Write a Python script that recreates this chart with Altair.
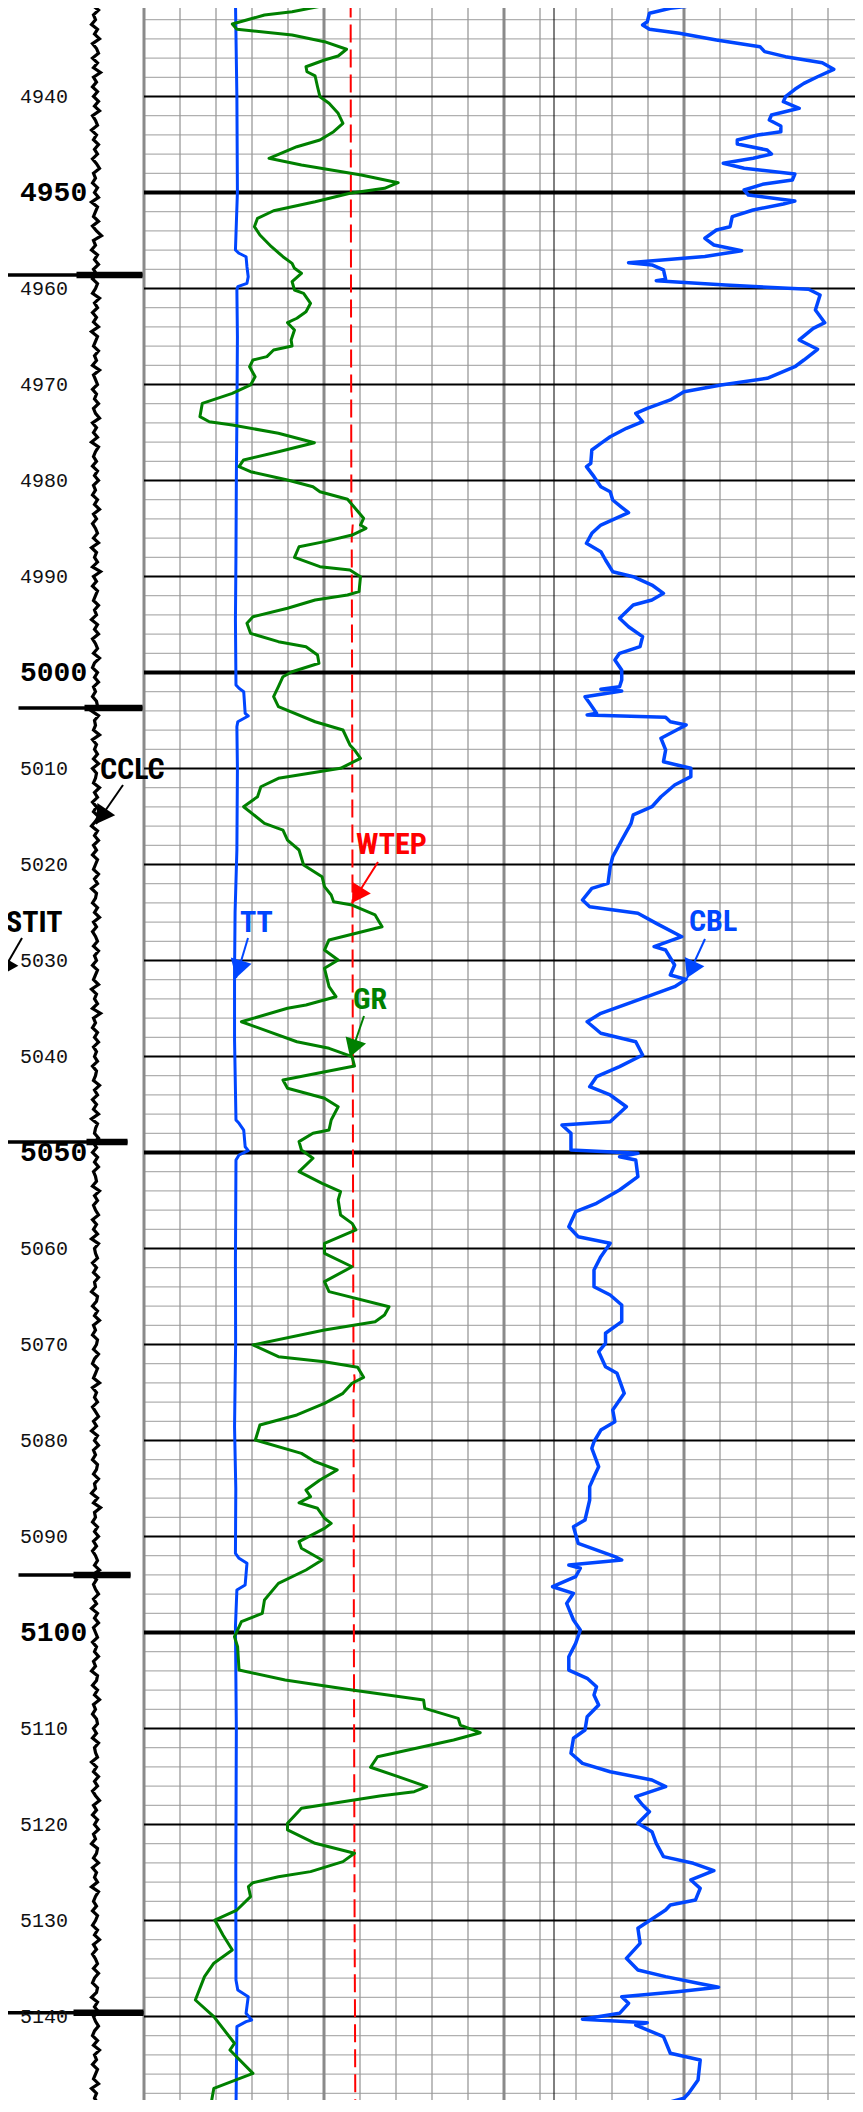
import math
import altair as alt
import pandas as pd

# ------------------------------------------------------------------ data
GR_DEPTH = [4929.95, 4930.47, 4931.17, 4931.51, 4932.45, 4933.0, 4933.59, 4934.29, 4935.08, 4935.78,
            4936.2, 4936.9, 4937.42, 4937.86, 4938.98, 4940.02, 4940.71, 4941.75, 4942.79, 4943.67,
            4944.53, 4945.23, 4946.44, 4947.14, 4948.18, 4948.98, 4949.56, 4950.08, 4950.96, 4951.9,
            4952.69, 4953.56, 4954.43, 4955.65, 4956.69, 4957.38, 4957.9, 4958.42, 4959.29, 4960.16,
            4960.5, 4961.54, 4962.42, 4963.1, 4963.56, 4964.32, 4965.36, 4965.99, 4966.41, 4967.1,
            4967.45, 4968.15, 4969.19, 4970.05, 4970.92, 4971.96, 4973.35, 4973.88, 4974.22, 4975.08,
            4976.06, 4977.0, 4977.86, 4978.56, 4979.08, 4979.95, 4980.65, 4981.17, 4981.96, 4983.07,
            4983.94, 4984.64, 4984.98, 4985.68, 4986.37, 4986.9, 4988.0, 4988.98, 4989.32, 4990.02,
            4991.58, 4991.93, 4992.45, 4993.31, 4994.19, 4994.88, 4995.92, 4996.79, 4997.31, 4998.18,
            4999.04, 4999.92, 5000.44, 5001.48, 5002.52, 5003.56, 5005.13, 5005.99, 5007.55, 5008.07,
            5008.94, 5009.98, 5011.02, 5011.9, 5012.94, 5013.98, 5015.71, 5016.41, 5017.45, 5018.49,
            5020.05, 5021.27, 5022.31, 5023.18, 5023.87, 5024.22, 5025.26, 5026.48, 5027.86, 5028.91,
            5029.95, 5030.81, 5032.73, 5033.77, 5034.64, 5034.98, 5036.38, 5038.46, 5039.15, 5040.02,
            5040.99, 5042.45, 5043.31, 5044.35, 5045.23, 5046.61, 5047.66, 5048.0, 5048.87, 5049.74,
            5050.6, 5052.0, 5053.21, 5054.08, 5054.95, 5056.51, 5057.38, 5058.07, 5059.46, 5060.5,
            5061.9, 5063.45, 5064.49, 5066.06, 5066.93, 5067.62, 5068.49, 5070.05, 5071.27, 5071.79,
            5072.38, 5073.42, 5074.04, 5075.09, 5076.13, 5077.34, 5078.39, 5079.95, 5081.34, 5082.21,
            5083.07, 5084.11, 5085.16, 5085.85, 5086.48, 5087.06, 5088.1, 5088.63, 5089.15, 5090.54,
            5091.23, 5092.45, 5093.49, 5094.88, 5096.61, 5098.0, 5098.87, 5100.44, 5101.48, 5103.91,
            5104.95, 5105.99, 5107.03, 5107.9, 5108.94, 5109.64, 5110.44, 5111.2, 5112.94, 5114.04,
            5115.02, 5116.06, 5116.58, 5117.03, 5118.31, 5119.88, 5120.57, 5121.96, 5123.0, 5123.87,
            5124.91, 5125.44, 5126.06, 5126.48, 5127.52, 5128.91, 5129.95, 5131.51, 5133.07, 5134.45,
            5135.85, 5138.28, 5140.02, 5142.79, 5143.49, 5145.92, 5147.48, 5148.87, 5149.91]
GR_API = [79.0, 76.1, 61.7, 50.2, 36.8, 38.7, 61.7, 75.2, 84.4, 80.9,
          75.2, 67.5, 67.9, 71.3, 72.3, 73.3, 77.1, 80.9, 82.9, 79.0,
          73.3, 63.7, 52.1, 65.6, 90.5, 105.9, 100.2, 85.8, 71.3, 54.0,
          47.3, 46.0, 48.3, 53.1, 57.9, 61.7, 62.7, 65.6, 61.7, 62.7,
          66.5, 69.4, 67.5, 63.7, 59.8, 62.7, 61.3, 61.7, 54.0, 51.2,
          45.4, 44.0, 46.3, 44.4, 36.8, 24.3, 23.3, 27.2, 36.8, 56.0,
          71.0, 56.0, 41.5, 39.6, 44.4, 59.8, 70.4, 73.3, 84.8, 88.6,
          91.5, 90.2, 92.5, 86.7, 75.2, 64.6, 62.7, 73.3, 85.8, 90.2,
          89.6, 84.8, 71.3, 59.8, 45.4, 42.9, 44.4, 56.0, 67.5, 72.3,
          72.9, 61.7, 57.9, 56.0, 54.0, 56.0, 71.3, 82.9, 85.8, 87.7,
          90.2, 81.9, 56.0, 48.7, 47.3, 41.5, 50.2, 57.9, 59.8, 64.6,
          66.5, 74.2, 75.2, 78.0, 79.0, 86.7, 96.3, 99.2, 77.1, 75.2,
          80.9, 75.2, 77.1, 80.0, 67.5, 59.8, 40.6, 63.7, 77.1, 86.7,
          87.7, 57.9, 59.8, 75.2, 80.9, 78.0, 77.1, 70.4, 64.6, 65.6,
          70.4, 64.6, 74.2, 81.9, 80.9, 81.9, 86.7, 88.3, 75.2, 75.2,
          86.7, 75.2, 77.1, 102.1, 100.2, 96.3, 75.2, 45.4, 56.0, 75.2,
          89.0, 91.5, 86.7, 82.9, 75.2, 63.7, 48.3, 46.4, 65.6, 71.3,
          80.5, 73.3, 67.5, 69.4, 64.6, 72.3, 75.2, 78.0, 75.2, 64.6,
          65.6, 74.2, 67.5, 56.0, 50.2, 49.3, 40.6, 37.7, 39.0, 39.6,
          58.8, 86.7, 116.5, 117.0, 130.9, 131.8, 140.1, 129.0, 97.3, 94.4,
          105.9, 117.8, 112.6, 98.2, 65.6, 59.8, 59.8, 71.3, 87.7, 82.9,
          69.4, 56.0, 45.4, 43.5, 44.4, 38.7, 29.5, 32.9, 36.8, 29.1,
          25.2, 21.4, 29.1, 37.7, 35.8, 45.4, 29.1, 28.1, 25.2]

TT_DEPTH = [4929.95, 4939.95, 4949.95, 4955.99, 4956.33, 4956.69, 4957.73, 4958.77, 4959.46, 4959.81,
            4960.16, 4965.0, 4973.7, 4980.0, 4987.55, 4994.53, 5001.3, 5001.65, 5002.0, 5004.25,
            5004.53, 5005.13, 5005.65, 5010.0, 5018.49, 5025.0, 5031.33, 5038.28, 5046.61, 5046.96,
            5047.66, 5049.4, 5049.81, 5050.26, 5050.78, 5061.2, 5070.0, 5078.56, 5085.0, 5091.75,
            5092.27, 5092.79, 5095.05, 5095.57, 5099.4, 5110.0, 5125.0, 5136.2, 5137.24, 5137.94,
            5139.67, 5140.36, 5140.54, 5141.06, 5149.84]
TT_US = [250.8, 251.6, 251.9, 250.8, 252.8, 256.7, 257.2, 257.9, 257.2, 252.1,
         251.6, 251.9, 251.6, 251.3, 251.1, 250.8, 251.1, 252.8, 255.4, 256.2,
         257.9, 252.1, 251.6, 251.9, 251.6, 250.6, 250.3, 250.3, 251.1, 252.8,
         255.4, 256.2, 257.9, 252.8, 251.1, 250.8, 250.9, 250.3, 251.0, 250.8,
         252.8, 257.2, 256.2, 251.6, 250.8, 251.3, 251.0, 251.1, 252.1, 257.9,
         256.7, 259.8, 256.7, 251.6, 251.1]

WTEP_DEPTH = [4929.9, 4960.0, 4983.0, 4984.5, 4986.0, 5000.0, 5040.0, 5060.0, 5072.5, 5073.5,
              5075.0, 5100.0, 5130.0, 5139.0, 5150.0]
WTEP_F = [157.4, 157.5, 157.6, 158.0, 157.7, 157.8, 158.0, 158.1, 158.2, 158.5,
          158.2, 158.3, 158.5, 158.6, 158.7]

CBL_DEPTH = [4929.95, 4930.47, 4930.81, 4931.33, 4932.21, 4932.55, 4933.0, 4933.42, 4934.11, 4934.81,
             4935.33, 4935.85, 4936.48, 4937.17, 4937.94, 4938.63, 4939.25, 4940.02, 4940.54, 4941.23,
             4941.93, 4942.45, 4943.07, 4943.67, 4944.01, 4944.53, 4944.95, 4945.57, 4945.99, 4946.44,
             4946.96, 4947.48, 4948.07, 4948.7, 4949.15, 4949.74, 4950.26, 4950.89, 4951.2, 4951.82,
             4952.52, 4953.56, 4953.91, 4954.77, 4955.47, 4956.06, 4956.67, 4957.31, 4957.55, 4958.07,
             4959.04, 4959.19, 4959.64, 4960.08, 4960.68, 4962.24, 4963.56, 4964.15, 4965.36, 4966.33,
             4967.45, 4968.15, 4969.35, 4970.05, 4970.75, 4971.61, 4972.48, 4973.0, 4973.88, 4974.56,
             4975.44, 4976.13, 4976.82, 4978.21, 4978.56, 4979.6, 4980.65, 4981.17, 4982.03, 4982.79,
             4983.35, 4984.64, 4985.5, 4986.54, 4987.42, 4988.28, 4989.5, 4990.02, 4990.89, 4991.75,
             4992.45, 4992.97, 4994.35, 4995.23, 4996.27, 4997.31, 4998.0, 4998.7, 4999.74, 5000.78,
             5001.48, 5001.75, 5001.93, 5002.52, 5003.21, 5004.25, 5004.43, 5004.67, 5005.13, 5005.47,
             5006.85, 5008.07, 5009.29, 5009.98, 5010.85, 5011.72, 5012.94, 5013.98, 5014.84, 5015.71,
             5017.45, 5019.19, 5020.23, 5021.96, 5022.48, 5023.7, 5024.4, 5025.08, 5026.13, 5027.52,
             5028.56, 5028.91, 5030.47, 5031.51, 5031.96, 5032.73, 5033.77, 5035.5, 5036.38, 5037.58,
             5038.46, 5039.84, 5041.06, 5042.1, 5043.15, 5044.01, 5045.23, 5046.79, 5047.14, 5048.0,
             5049.74, 5050.08, 5050.44, 5050.78, 5052.52, 5053.91, 5055.29, 5056.17, 5057.73, 5058.77,
             5059.46, 5060.85, 5062.24, 5063.98, 5064.84, 5065.88, 5067.62, 5068.83, 5069.88, 5070.75,
             5072.31, 5073.0, 5075.09, 5076.82, 5078.04, 5078.91, 5080.13, 5080.81, 5082.73, 5083.77,
             5084.81, 5086.2, 5088.28, 5088.98, 5090.71, 5092.1, 5092.45, 5092.97, 5093.31, 5094.19,
             5095.23, 5095.92, 5096.97, 5098.7, 5099.74, 5101.13, 5102.52, 5103.91, 5104.77, 5105.65,
             5106.51, 5107.55, 5108.77, 5110.16, 5111.02, 5112.58, 5113.63, 5114.5, 5115.36, 5116.06,
             5117.1, 5117.97, 5118.67, 5119.88, 5120.75, 5121.96, 5123.35, 5124.04, 5124.81, 5125.78,
             5126.65, 5127.86, 5128.39, 5128.91, 5130.81, 5132.38, 5133.94, 5135.16, 5135.85, 5136.54,
             5136.95, 5137.41, 5137.94, 5138.63, 5139.67, 5140.29, 5140.65, 5140.89, 5142.1, 5143.83,
             5144.53, 5146.61, 5148.0, 5148.52, 5149.4, 5149.91]
CBL_MV = [55.1, 53.9, 46.2, 40.4, 39.8, 38.5, 40.4, 48.7, 59.0, 71.1,
          72.4, 78.2, 88.4, 91.6, 87.1, 83.3, 80.8, 78.2, 77.6, 82.0,
          74.3, 73.7, 76.9, 76.9, 70.5, 64.8, 64.8, 73.1, 74.3, 69.2,
          60.9, 66.7, 80.8, 80.1, 71.8, 66.7, 67.9, 80.8, 77.6, 69.2,
          63.4, 62.8, 59.0, 55.8, 58.3, 66.0, 55.8, 34.6, 41.1, 44.3,
          44.9, 42.3, 61.5, 84.6, 87.8, 86.5, 89.1, 85.9, 82.0, 87.1,
          83.3, 80.8, 73.1, 60.3, 50.0, 46.2, 39.8, 36.6, 38.5, 34.0,
          29.5, 26.9, 24.4, 24.1, 22.9, 25.0, 26.9, 29.5, 30.2, 32.7,
          34.6, 26.9, 24.4, 22.9, 26.9, 28.2, 30.2, 35.9, 41.1, 44.3,
          41.1, 35.9, 32.1, 34.6, 38.5, 37.8, 32.1, 30.8, 32.7, 32.7,
          32.1, 26.9, 32.7, 22.5, 23.8, 25.7, 23.1, 44.9, 46.2, 50.6,
          43.6, 44.9, 44.3, 51.9, 51.9, 47.4, 43.6, 41.1, 35.9, 35.3,
          32.7, 30.2, 29.5, 28.9, 24.4, 21.8, 23.8, 37.2, 42.3, 49.4,
          41.7, 44.9, 47.4, 46.2, 50.6, 47.4, 39.8, 26.9, 23.1, 26.9,
          36.6, 38.5, 32.1, 25.7, 23.8, 29.5, 34.0, 29.5, 16.1, 18.6,
          18.6, 37.2, 32.1, 36.6, 37.2, 32.1, 25.7, 19.9, 18.0, 20.6,
          29.5, 26.9, 25.0, 25.0, 29.5, 32.7, 32.7, 28.2, 28.2, 26.3,
          28.2, 31.4, 33.4, 30.2, 30.8, 26.9, 25.0, 24.4, 26.3, 25.0,
          23.8, 23.8, 22.5, 19.3, 20.6, 30.8, 32.7, 18.0, 21.2, 19.9,
          13.5, 19.3, 17.4, 19.3, 21.2, 19.9, 18.0, 18.0, 23.1, 25.7,
          25.0, 26.3, 23.1, 22.5, 19.3, 18.6, 21.8, 29.5, 41.1, 44.9,
          36.6, 38.5, 40.4, 37.2, 41.1, 42.3, 44.3, 52.6, 58.3, 51.9,
          54.5, 53.2, 46.2, 44.9, 37.2, 37.8, 34.0, 37.2, 44.9, 53.9,
          59.6, 48.1, 32.7, 34.6, 32.1, 21.8, 39.8, 36.6, 44.3, 46.2,
          54.5, 53.9, 51.3, 50.0, 41.1, 39.1]

# casing collar locator, sampled every 0.5 ft from 4930 ft
CCL_START, CCL_STEP = 4930.0, 0.5
CCL_VALUES = [
    1, -3, 3, -2, 0, -4, 2, -1, 4, -3, 1, 3, -3, 2, -2, 5, -2, 1, -3, 2,
    -2, 3, -1, 4, -3, 0, 2, -4, 1, -2, 3, -1, 2, -3, 1, 4, -2, 0, -3, 2,
    -1, 3, -4, 2, 0, -2, 3, -3, 1, 6, -2, 0, -4, 2, -1, 3, -2, 1, -3, 2,
    0, -3, 4, -1, 2, -3, 1, -2, 3, -4, 2, 0, -2, 3, -1, 1, -3, 4, -2, 0,
    2, -3, 1, -1, 3, -2, 0, 4, -3, 1, -2, 2, -4, 3, 0, -2, 1, -3, 2, -1,
    3, -2, 0, -3, 2, -1, 4, -2, 1, -3, 0, 2, -2, 3, -4, 1, -1, 2, -3, 5,
    -2, 1, -3, 2, 0, -2, 3, -1, 1, -4, 2, -1, 3, -3, 0, 2, -2, 4, -1, -3,
    2, -1, 3, -2, 0, -3, 1, 2, -4, 3, -1, 0, -2, 4, -3, 1, -1, 2, -2, 3,
    -3, 1, 0, -2, 4, -1, 2, -3, 1, -2, 3, 0, -4, 2, -1, 3, -2, 1, -3, 2,
    0, -2, 3, -1, 2, -4, 1, 0, -3, 2, -1, 4, -2, 1, -3, 0, 2, -2, 3, -1,
    1, -3, 2, 0, -2, 3, -4, 1, -1, 2, -3, 5, -2, 0, -3, 2, -1, 3, -2, 1,
    -1, 2, -3, 1, 0, -2, 4, -1, 2, -3, 1, -2, 3, -4, 2, 0, -1, 3, -2, 1,
    -3, 2, -1, 3, -2, 0, 1, -3, 4, -1, 2, -2, 0, 3, -3, 1, -2, 2, -4, 3,
    -1, 0, 2, -3, 1, -2, 3, -1, 0, -4, 2, 1, -3, 2, -1, 4, -2, 0, -3, 2,
    1, -2, 3, -1, -3, 2, 0, -2, 4, -3, 1, -1, 2, -3, 0, 3, -2, 1, -4, 2,
    -1, 3, -2, 0, -3, 2, 1, -2, 3, -1, 0, -4, 2, -2, 5, -1, 0, -3, 2, -1,
    3, -2, 1, -3, 0, 2, -1, 4, -3, 1, -2, 0, 3, -2, 1, -4, 2, -1, 3, -2,
    0, 2, -3, 1, -1, 3, -2, 0, -4, 2, 1, -3, 2, -1, 4, -2, 0, -3, 1, 2,
    -2, 1, -3, 3, -1, 0, 2, -4, 1, -2, 3, -1, 2, -3, 0, 4, -2, 1, -3, 2,
    -1, 3, -2, 0, -4, 2, 1, -2, 3, -3, 1, -1, 2, -4, 3, 0, -2, 1, -3, 2,
    0, -3, 2, -1, 4, -2, 1, -3, 0, 2, -2, 3, -1, -3, 2, 1, -4, 2, -1, 3,
    -2, 0, 3, -1, -3, 2, -2, 4, -1, 1, -3, 2, 0, -2, 3, -4, 1, -1, 2, -2]

COLLAR_DEPTH = [4958.6, 5003.7, 5048.9, 5094.0, 5139.6]
COLLAR_LEFT = [-92.0, -77.0, -96.0, -77.0, -96.0]
COLLAR_MID = [-19.0, -11.0, -9.0, -22.0, -22.0]
COLLAR_RIGHT = [47.0, 47.0, 32.0, 35.0, 48.0]

DEPTH_LABELS = list(range(4930, 5151, 10))

CURVE_NAMES = ["CCLC", "STIT", "TT", "WTEP", "GR", "CBL"]

# ------------------------------------------------------------------ layout
W, H = 847, 2092
OFF = 8                       # page margin
FT_PX = 9.6
D_TOP = 4930 + (OFF - 0.5) / FT_PX
D_BOT = D_TOP + H / FT_PX
DIV_PX = 36.0
U_MIN = (OFF - 144) / DIV_PX
U_MAX = U_MIN + W / DIV_PX

GREEN = "#008000"
BLUE = "#0046ff"
RED = "#ff0000"
BLACK = "#000000"

xs = alt.Scale(domain=[U_MIN, U_MAX], nice=False, zero=False)
ys = alt.Scale(domain=[D_TOP, D_BOT], nice=False, zero=False, reverse=True)


def X(f="u"):
    return alt.X(f + ":Q", scale=xs, axis=None)


def Y(f="depth"):
    return alt.Y(f + ":Q", scale=ys, axis=None)


def gr_u(v):   # 0-150 API across track 1
    return v / 15.0


def tt_u(v):   # 200-400 us across track 1
    return (v - 200.0) / 20.0


def wtep_u(v):  # 100-200 degF across track 1
    return (v - 100.0) / 10.0


def cbl_u(v):  # 0-100 mV across track 2
    return 10.0 + v / 10.0


def ccl_u(v):  # CCL, centred in the depth track
    return (95.5 - 144) / DIV_PX + v / DIV_PX


def px_u(xref):     # reference-pixel helpers for the annotation layout
    return (xref - 144) / DIV_PX


def px_d(yref):
    return 4930 + (yref - 0.5) / FT_PX


def curve(depths, values, conv):
    return pd.DataFrame({"depth": depths, "u": [conv(v) for v in values], "i": list(range(len(depths)))})


layers = []

# horizontal grid
minor = [d for d in range(4930, 5152, 2) if d % 10]
major10 = [d for d in range(4930, 5151, 10) if d % 50]
major50 = [d for d in range(4930, 5151, 10) if d % 50 == 0]


def hlines(vals):
    return pd.DataFrame({"depth": vals, "u": [0.0] * len(vals), "u2": [U_MAX] * len(vals)})


layers.append(alt.Chart(hlines(minor)).mark_rule(color="#b0b0b0", strokeWidth=1.2)
              .encode(y=Y(), x=X(), x2="u2:Q"))

# vertical grid
thin_u = [k for k in range(1, 20) if k % 5]
layers.append(alt.Chart(pd.DataFrame({"u": thin_u})).mark_rule(color="#9a9a9a", strokeWidth=1.3).encode(x=X()))
layers.append(alt.Chart(pd.DataFrame({"u": [0, 5, 10, 15]})).mark_rule(color="#8a8a8a", strokeWidth=3).encode(x=X()))
layers.append(alt.Chart(pd.DataFrame({"u": [px_u(554)]})).mark_rule(color=BLACK, strokeWidth=1).encode(x=X()))

layers.append(alt.Chart(hlines(major10)).mark_rule(color=BLACK, strokeWidth=2.0).encode(y=Y(), x=X(), x2="u2:Q"))
layers.append(alt.Chart(hlines(major50)).mark_rule(color=BLACK, strokeWidth=3.8).encode(y=Y(), x=X(), x2="u2:Q"))

# curves
layers.append(alt.Chart(curve(WTEP_DEPTH, WTEP_F, wtep_u)).mark_line(color=RED, strokeWidth=2, strokeDash=[18, 7])
              .encode(x=X(), y=Y(), order="i:Q"))
layers.append(alt.Chart(curve(TT_DEPTH, TT_US, tt_u)).mark_line(color=BLUE, strokeWidth=3, strokeJoin="round")
              .encode(x=X(), y=Y(), order="i:Q"))
layers.append(alt.Chart(curve(GR_DEPTH, GR_API, gr_u)).mark_line(color=GREEN, strokeWidth=3, strokeJoin="round")
              .encode(x=X(), y=Y(), order="i:Q"))
layers.append(alt.Chart(curve(CBL_DEPTH, CBL_MV, cbl_u)).mark_line(color=BLUE, strokeWidth=3.5, strokeJoin="round")
              .encode(x=X(), y=Y(), order="i:Q"))

ccl_depth = [CCL_START + CCL_STEP * k for k in range(len(CCL_VALUES))]
layers.append(alt.Chart(curve(ccl_depth, CCL_VALUES, ccl_u)).mark_line(color=BLACK, strokeWidth=3.2)
              .encode(x=X(), y=Y(), order="i:Q"))

collars = pd.DataFrame({"depth": COLLAR_DEPTH,
                        "u": [ccl_u(v) for v in COLLAR_LEFT],
                        "um": [ccl_u(v) for v in COLLAR_MID],
                        "ur": [ccl_u(v) for v in COLLAR_RIGHT]})
layers.append(alt.Chart(collars).mark_rule(color=BLACK, strokeWidth=3.5).encode(x=X(), x2="ur:Q", y=Y()))
layers.append(alt.Chart(collars).mark_rule(color=BLACK, strokeWidth=6.5).encode(x=X("um"), x2="ur:Q", y=Y()))

# depth labels
lab = pd.DataFrame({"depth": DEPTH_LABELS, "t": [str(d) for d in DEPTH_LABELS],
                    "big": [d % 50 == 0 for d in DEPTH_LABELS]})
layers.append(alt.Chart(lab[~lab["big"]]).mark_text(align="left", baseline="middle", font="Liberation Mono",
                                                     fontSize=20, color="#111111")
              .encode(x=alt.value(20 - OFF), y=Y(), text="t:N"))
layers.append(alt.Chart(lab[lab["big"]]).mark_text(align="left", baseline="middle", font="Liberation Mono",
                                                    fontSize=28, fontWeight="bold", color=BLACK)
              .encode(x=alt.value(20 - OFF), y=Y(), text="t:N"))

# curve name annotations with arrows
ANN_FONT = "Liberation Sans Narrow, Roboto Condensed, DejaVu Sans Condensed, Roboto"
ARROW = "M0,0 L-0.6,-1 L0.6,-1 Z"
ann_colors = [BLACK, BLACK, BLUE, RED, GREEN, BLUE]
# text left / baseline and arrow start / tip, in reference pixels
ann_text_px = [(100, 779), (6, 932), (240, 932), (356, 854), (353, 1009), (689, 931)]
ann_start_px = [(123, 785), (22, 938), (248, 938), (378, 862), (364, 1016), (705, 939)]
ann_tip_px = [(96, 824), (0, 976), (236, 978), (352, 903), (350, 1057), (687, 978)]

for name, col, (tx, ty), (sx, sy), (ex, ey) in zip(CURVE_NAMES, ann_colors, ann_text_px, ann_start_px, ann_tip_px):
    one = pd.DataFrame({"t": [name], "u": [px_u(tx)], "depth": [px_d(ty)],
                        "su": [px_u(sx)], "sd": [px_d(sy)], "eu": [px_u(ex)], "ed": [px_d(ey)]})
    layers.append(alt.Chart(one).mark_text(align="left", baseline="alphabetic", font=ANN_FONT, fontSize=30,
                                           fontWeight="bold", color=col)
                  .encode(x=X(), y=Y(), text="t:N"))
    layers.append(alt.Chart(one).mark_rule(color=col, strokeWidth=2)
                  .encode(x=X("su"), y=Y("sd"), x2="eu:Q", y2="ed:Q"))
    ang = math.degrees(math.atan2(-(ex - sx), (ey - sy))) % 360
    layers.append(alt.Chart(one).mark_point(shape=ARROW, filled=True, size=1300, angle=ang, color=col,
                                            opacity=1, strokeWidth=0)
                  .encode(x=X("eu"), y=Y("ed")))

chart = (alt.layer(*layers)
         .properties(width=W, height=H, padding=0, autosize=alt.AutoSizeParams(type="none"))
         .configure_view(stroke=None))

chart.save("out.html", embed_options={"renderer": "svg", "actions": False})
